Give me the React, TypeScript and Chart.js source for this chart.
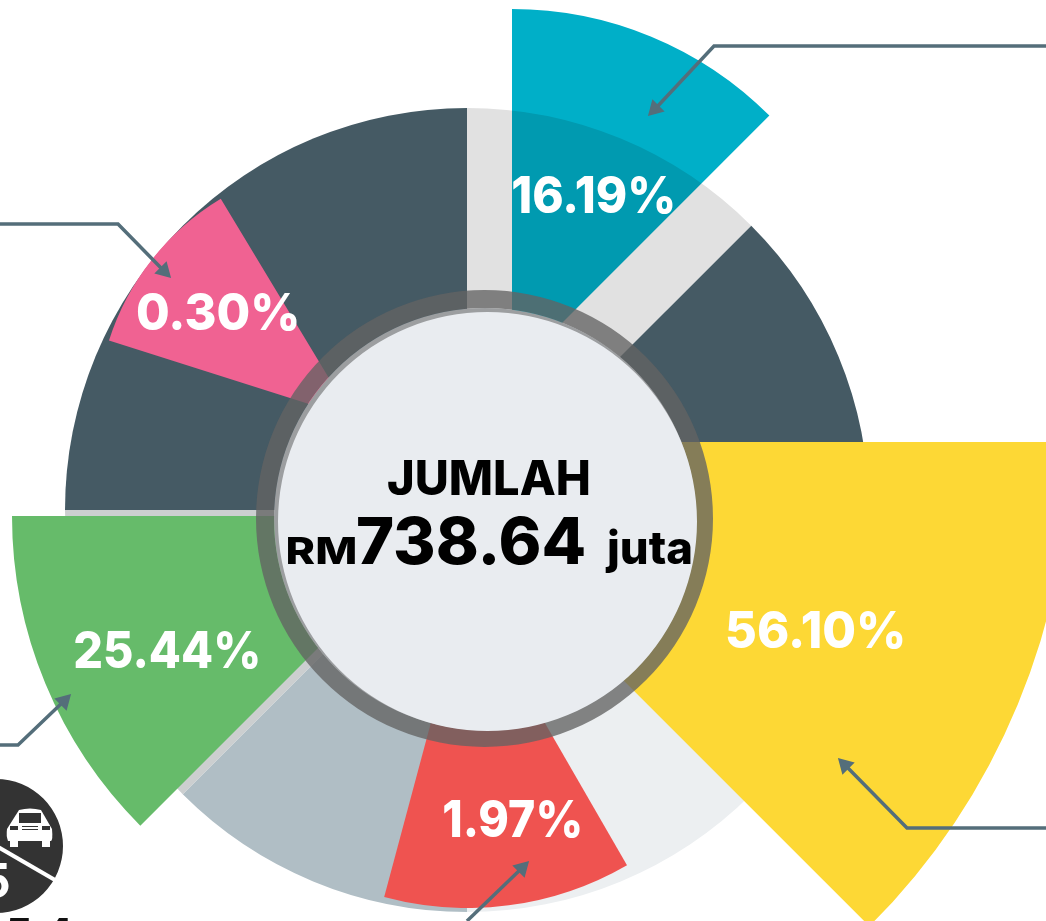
import React, { useEffect, useRef } from "react";
import { Chart, registerables } from "chart.js";

Chart.register(...registerables);

// ----- data -----
const ringSliceDegrees = [45, 45, 90, 45, 45, 90];
const ringSliceColors = ["#e1e1e1", "#455a64", "#eceff1", "#b0bec5", "#cccfd0", "#455a64"];

const wedgeLabels = ["16.19%", "56.10%", "1.97%", "25.44%", "0.30%"];
const wedgeStartDegrees = [0, 90, 150, 225, 287.6];
const wedgeSpanDegrees = [45, 45, 45, 45, 41.3];
const wedgeColors = ["#00afc8", "#fdd835", "#ef5350", "#66bb6a", "#f06292"];

const totalLabel = "JUMLAH";
const totalUnit = "RM";
const totalValue = "738.64";
const totalScale = "juta";

const leaderTeal = [{ x: 1046, y: 46 }, { x: 714, y: 46 }, { x: 655, y: 109 }];
const leaderPink = [{ x: 0, y: 224 }, { x: 118, y: 224 }, { x: 164, y: 271 }];
const leaderGreen = [{ x: 0, y: 745 }, { x: 18, y: 745 }, { x: 64, y: 701 }];
const leaderYellow = [{ x: 1046, y: 828 }, { x: 907, y: 828 }, { x: 845, y: 765 }];
const leaderRed = [{ x: 467, y: 921 }, { x: 522, y: 868 }];

// ----- layout -----
const PAGE_W = 1046;
const PAGE_H = 921;
const FONT = "Inter, 'Noto Sans', sans-serif";

type Disc = {
  cx: number; cy: number; r: number; data: number[]; colors: string[];
  rotation?: number; cutout?: number; blend?: string;
};

const wedgeLayout = [
  { cx: 512, cy: 373, r: 364, blend: "multiply" },
  { cx: 385, cy: 442, r: 685 },
  { cx: 467, cy: 588, r: 320 },
  { cx: 450, cy: 516, r: 438 },
  { cx: 353, cy: 418, r: 256 },
];

const discs: Disc[] = [
  { cx: 467, cy: 510, r: 402, data: ringSliceDegrees, colors: ringSliceColors },
  ...wedgeLabels.map((_, i) => ({
    ...wedgeLayout[i],
    data: [wedgeSpanDegrees[i], 360 - wedgeSpanDegrees[i]],
    colors: [wedgeColors[i], "rgba(0,0,0,0)"],
    rotation: wedgeStartDegrees[i],
  })),
  { cx: 484.5, cy: 518.5, r: 228.5, cutout: 210.5, data: [1], colors: ["rgba(99,99,99,0.78)"] },
  { cx: 484.5, cy: 518.5, r: 211, data: [1], colors: ["#9c9ea0"] },
  { cx: 487.5, cy: 521, r: 209.5, data: [1], colors: ["#e9ecf0"] },
  { cx: -4, cy: 846, r: 67, data: [1], colors: ["#333333"] },
];

const wedgeTextBox = [
  { left: 513, right: 673, base: 213 },
  { left: 727, right: 903, base: 648 },
  { left: 444, right: 580, base: 837 },
  { left: 75, right: 258, base: 668 },
  { left: 138, right: 297, base: 330 },
];

function fitText(
  c: CanvasRenderingContext2D, text: string, font: string,
  left: number, right: number, base: number
) {
  c.font = font;
  c.textAlign = "left";
  const m = c.measureText(text);
  const ink = m.actualBoundingBoxLeft + m.actualBoundingBoxRight;
  const sx = (right - left) / ink;
  c.save();
  c.translate(left + m.actualBoundingBoxLeft * sx, base);
  c.scale(sx, 1);
  c.fillText(text, 0, 0);
  c.restore();
}

const overlayPlugin = {
  id: "overlayText",
  afterDraw(chart: any) {
    const c = chart.ctx as CanvasRenderingContext2D;
    c.save();
    c.textBaseline = "alphabetic";

    // icon
    c.strokeStyle = "#ffffff";
    c.lineWidth = 4;
    c.beginPath();
    c.moveTo(-2, 847);
    c.lineTo(55, 880);
    c.stroke();
    c.fillStyle = "#ffffff";
    c.beginPath();
    c.moveTo(7, 829);
    c.lineTo(19, 810);
    c.quadraticCurveTo(30, 807, 41, 810);
    c.lineTo(52, 829);
    c.quadraticCurveTo(53, 840, 51, 841);
    c.lineTo(8, 841);
    c.quadraticCurveTo(6, 836, 7, 829);
    c.fill();
    c.fillRect(10, 840, 8, 7);
    c.fillRect(42, 840, 8, 7);
    c.fillStyle = "#333333";
    c.fillRect(19, 813, 22, 10);
    c.fillRect(10, 826, 8, 4);
    c.fillRect(42, 826, 8, 4);
    c.fillRect(22, 826, 16, 1);
    c.fillRect(22, 829, 16, 1);
    c.fillStyle = "#ffffff";
    c.textAlign = "left";
    c.font = `700 48px ${FONT}`;
    c.fillText("5", -20, 898);
    c.fillStyle = "#111111";
    c.font = `800 40px ${FONT}`;
    c.fillText("5.4", 6, 947);

    // percentages
    c.fillStyle = "#ffffff";
    wedgeLabels.forEach((label, i) => {
      const p = wedgeTextBox[i];
      fitText(c, label, `800 51px ${FONT}`, p.left, p.right, p.base);
    });

    // total
    c.fillStyle = "#000000";
    fitText(c, totalLabel, `800 48px ${FONT}`, 388, 589, 495);
    fitText(c, totalUnit, `800 37px ${FONT}`, 288, 355, 564);
    fitText(c, totalValue, `800 64px ${FONT}`, 358, 584, 564);
    fitText(c, totalScale, `800 46px ${FONT}`, 605, 691, 564);
    c.restore();
  },
};

export default function App() {
  const discRefs = useRef<(HTMLCanvasElement | null)[]>([]);
  const overlayRef = useRef<HTMLCanvasElement | null>(null);

  useEffect(() => {
    const charts: Chart[] = [];
    discs.forEach((d, i) => {
      const canvas = discRefs.current[i];
      if (!canvas) return;
      charts.push(
        new Chart(canvas, {
          type: "doughnut",
          data: {
            datasets: [{ data: d.data, backgroundColor: d.colors, borderWidth: 0 }],
          },
          options: {
            animation: false,
            responsive: false,
            rotation: d.rotation ?? 0,
            cutout: d.cutout ?? 0,
            layout: { padding: 0 },
            plugins: { legend: { display: false }, tooltip: { enabled: false } },
          },
        } as any)
      );
    });

    if (overlayRef.current) {
      const leaders = [leaderTeal, leaderPink, leaderGreen, leaderYellow, leaderRed];
      const arrowRotation = [225, 135, 45, 315, 45];
      charts.push(
        new Chart(overlayRef.current, {
          type: "scatter",
          data: {
            datasets: leaders.map((pts, i) => ({
              data: pts,
              showLine: true,
              borderColor: "#546e7a",
              backgroundColor: "#546e7a",
              borderWidth: 3.5,
              pointStyle: "triangle",
              pointBorderWidth: 0,
              pointRadius: pts.map((_, k) => (k === pts.length - 1 ? 10 : 0)),
              pointRotation: arrowRotation[i],
            })),
          },
          options: {
            animation: false,
            responsive: false,
            layout: { padding: 0, autoPadding: false },
            clip: false,
            scales: {
              x: { type: "linear", min: 0, max: PAGE_W, display: false },
              y: { type: "linear", min: 0, max: PAGE_H, reverse: true, display: false },
            },
            plugins: { legend: { display: false }, tooltip: { enabled: false } },
          },
          plugins: [overlayPlugin],
        } as any)
      );
    }
    return () => charts.forEach((c) => c.destroy());
  }, []);

  return (
    <div
      style={{
        position: "fixed", left: 0, top: 0, width: PAGE_W, height: PAGE_H,
        overflow: "hidden", background: "#ffffff",
      }}
    >
      {discs.map((d, i) => (
        <canvas
          key={i}
          ref={(el) => { discRefs.current[i] = el; }}
          width={d.r * 2}
          height={d.r * 2}
          style={{
            position: "absolute",
            left: d.cx - d.r,
            top: d.cy - d.r,
            width: d.r * 2,
            height: d.r * 2,
            mixBlendMode: (d.blend as any) ?? "normal",
          }}
        />
      ))}
      <canvas
        ref={overlayRef}
        width={PAGE_W}
        height={PAGE_H}
        style={{ position: "absolute", left: 0, top: 0, width: PAGE_W, height: PAGE_H }}
      />
    </div>
  );
}
